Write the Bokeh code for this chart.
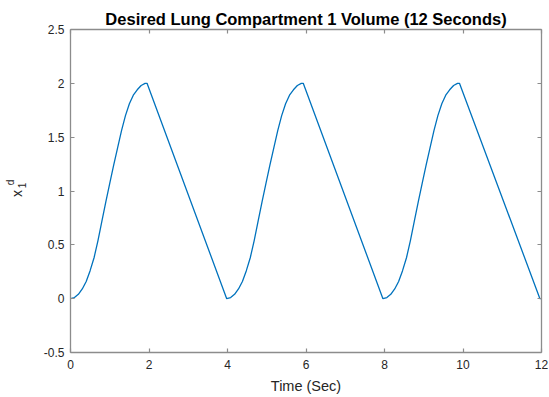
import math
from bokeh.plotting import figure
from bokeh.layouts import row
from bokeh.models import LinearAxis, FixedTicker, Range1d, Label, CustomJSTickFormatter
from bokeh.embed import file_html
from bokeh.resources import INLINE

# ---- data ----
time_sec = [
    0.00, 0.10, 0.20, 0.30, 0.40, 0.50, 0.60, 0.70, 0.80, 0.90, 1.00,
    1.10, 1.20, 1.30, 1.40, 1.50, 1.60, 1.70, 1.80, 1.90, 1.95,
    3.98, 4.08, 4.18, 4.28, 4.38, 4.48, 4.58, 4.68, 4.78, 4.88, 4.98,
    5.08, 5.18, 5.28, 5.38, 5.48, 5.58, 5.68, 5.78, 5.88, 5.93,
    7.96, 8.06, 8.16, 8.26, 8.36, 8.46, 8.56, 8.66, 8.76, 8.86, 8.96,
    9.06, 9.16, 9.26, 9.36, 9.46, 9.56, 9.66, 9.76, 9.86, 9.91,
    11.96, 12.00,
]
volume = [
    0.00, 0.01, 0.04, 0.09, 0.16, 0.26, 0.38, 0.54, 0.72, 0.90, 1.07,
    1.24, 1.40, 1.56, 1.70, 1.81, 1.89, 1.94, 1.98, 2.00, 2.00,
    0.00, 0.01, 0.04, 0.09, 0.16, 0.26, 0.38, 0.54, 0.72, 0.90, 1.07,
    1.24, 1.40, 1.56, 1.70, 1.81, 1.89, 1.94, 1.98, 2.00, 2.00,
    0.00, 0.01, 0.04, 0.09, 0.16, 0.26, 0.38, 0.54, 0.72, 0.90, 1.07,
    1.24, 1.40, 1.56, 1.70, 1.81, 1.89, 1.94, 1.98, 2.00, 2.00,
    0.00, 0.00,
]
x_ticks = [0, 2, 4, 6, 8, 10, 12]
y_ticks = [-0.5, 0, 0.5, 1, 1.5, 2, 2.5]
title_text = "Desired Lung Compartment 1 Volume (12 Seconds)"
x_label = "Time (Sec)"
y_label_parts = ["x", "d", "1"]

FONT = "Liberation Sans"
AXC = "#8c8c8c"
TXT = "#262626"
LABEL_W = 40

p = figure(width=549 - LABEL_W, height=397, output_backend="svg", toolbar_location=None,
           x_range=Range1d(0, 12), y_range=Range1d(-0.5, 2.5),
           min_border_left=70 - LABEL_W, min_border_right=8, min_border_top=29,
           min_border_bottom=45)
p.outline_line_color = None
p.xgrid.visible = False
p.ygrid.visible = False
p.background_fill_color = "white"
p.border_fill_color = "white"

p.title.text = title_text
p.title.align = "center"
p.title.text_font = FONT
p.title.text_font_size = "16.5px"
p.title.text_font_style = "bold"
p.title.text_color = "black"
p.title.standoff = 4


def style_axis(ax):
    ax.axis_line_color = AXC
    ax.axis_line_width = 1.3
    ax.major_tick_line_color = AXC
    ax.major_tick_line_width = 1.2
    ax.major_tick_in = 4
    ax.major_tick_out = 0
    ax.minor_tick_line_color = None
    ax.major_label_text_font = FONT
    ax.major_label_text_font_size = "12px"
    ax.major_label_text_color = TXT


style_axis(p.xaxis[0])
p.xaxis[0].ticker = FixedTicker(ticks=x_ticks)
p.xaxis[0].major_label_standoff = 7
p.xaxis[0].axis_label = x_label
p.xaxis[0].axis_label_text_font = FONT
p.xaxis[0].axis_label_text_font_size = "14.5px"
p.xaxis[0].axis_label_text_font_style = "normal"
p.xaxis[0].axis_label_text_color = TXT
p.xaxis[0].axis_label_standoff = 6

style_axis(p.yaxis[0])
p.yaxis[0].ticker = FixedTicker(ticks=y_ticks)
p.yaxis[0].formatter = CustomJSTickFormatter(code="return tick.toString()")
p.yaxis[0].major_label_standoff = 6
p.yaxis[0].major_label_orientation = "horizontal"

empty = "return ''"
top_ax = LinearAxis(ticker=FixedTicker(ticks=x_ticks), formatter=CustomJSTickFormatter(code=empty))
style_axis(top_ax)
top_ax.major_label_text_font_size = "1px"
top_ax.major_label_standoff = 0
p.add_layout(top_ax, "above")

right_ax = LinearAxis(ticker=FixedTicker(ticks=y_ticks), formatter=CustomJSTickFormatter(code=empty))
style_axis(right_ax)
right_ax.major_label_text_font_size = "1px"
right_ax.major_label_standoff = 0
p.add_layout(right_ax, "right")

p.line(time_sec, volume, line_color="#0072BD", line_width=1.3)

# narrow figure holding the y-axis label (x with superscript d and subscript 1, rotated)
lab = figure(width=LABEL_W, height=397, output_backend="svg", toolbar_location=None,
             x_axis_type=None, y_axis_type=None, min_border=0,
             x_range=Range1d(0, 1), y_range=Range1d(0, 1))
lab.outline_line_color = None
lab.background_fill_color = "white"
lab.border_fill_color = "white"
for txt, sx, sy, fs in zip(y_label_parts, [16, 10, 21], [159, 170, 167], ["14px", "10px", "10px"]):
    lab.add_layout(Label(x=sx, y=sy, x_units="screen", y_units="screen", text=txt,
                         angle=math.pi / 2, text_align="center", text_baseline="middle",
                         text_font=FONT, text_font_size=fs, text_color=TXT))

layout = row(lab, p, spacing=0)
open("out.html", "w").write(file_html(layout, INLINE))
